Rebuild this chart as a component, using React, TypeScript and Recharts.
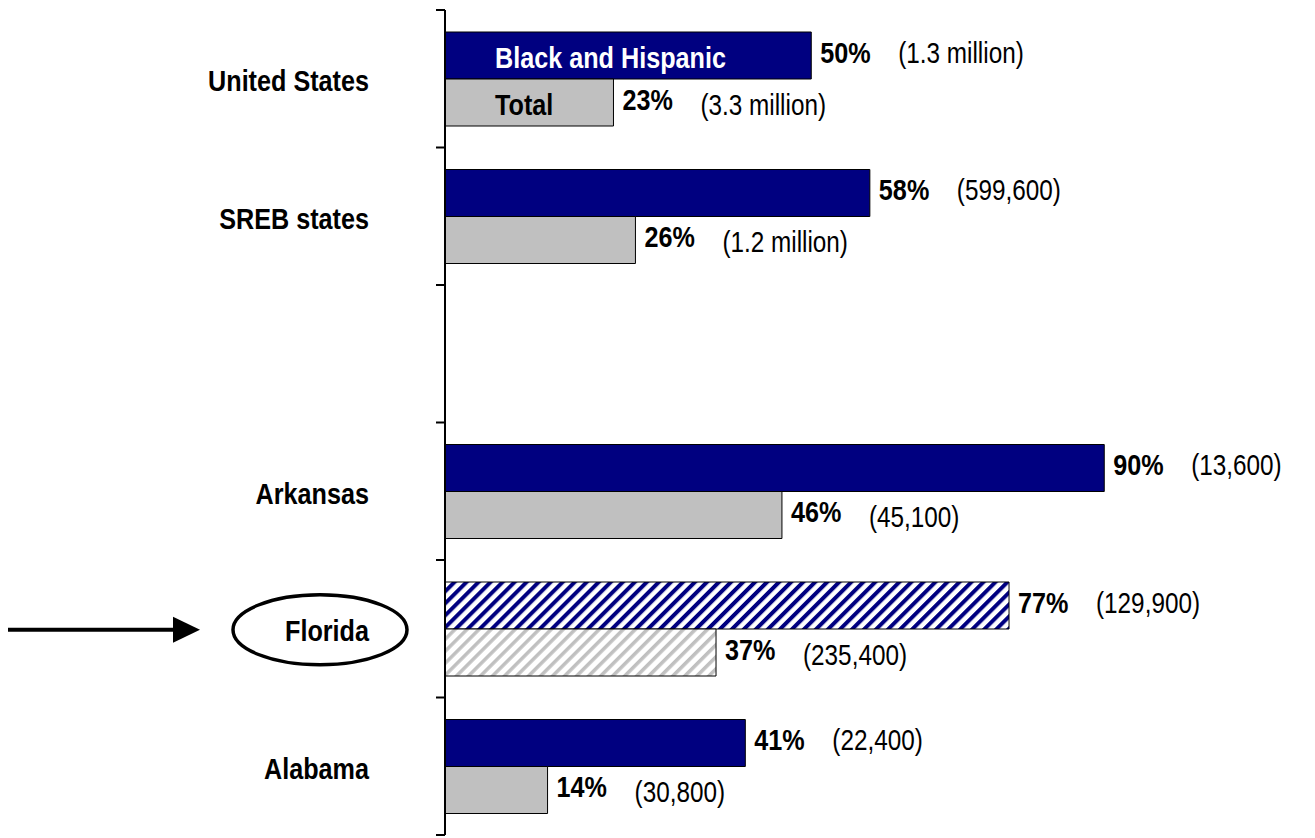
import React from "react";
import { Bar, BarChart, Cell, LabelList, XAxis, YAxis } from "recharts";

const categories = ["United States", "SREB states", " ", "Arkansas", "Florida", "Alabama"];
const blackHispanicPct = [50, 58, null, 90, 77, 41];
const blackHispanicCount = ["(1.3 million)", "(599,600)", null, "(13,600)", "(129,900)", "(22,400)"];
const totalPct = [23, 26, null, 46, 37, 14];
const totalCount = ["(3.3 million)", "(1.2 million)", null, "(45,100)", "(235,400)", "(30,800)"];
const seriesNames = ["Black and Hispanic", "Total"];
const highlighted = "Florida";

const data = categories.map((state, i) => ({
  state,
  bh: blackHispanicPct[i],
  bhCount: blackHispanicCount[i],
  bhTag: i === 0 ? seriesNames[0] : null,
  total: totalPct[i],
  totalCount: totalCount[i],
  totalTag: i === 0 ? seriesNames[1] : null,
}));

const W = 1315;
const H = 838;
const TOP = 10;
const BOTTOM = 3;
const AXIS_X = 445;
const PLOT_W = 732.5; // 0..100%
const BAND = (H - TOP - BOTTOM) / categories.length;
const FONT = "'Liberation Sans', Arial, sans-serif";
const FS = 30;
const NAVY = "#000080";
const GRAY = "#C0C0C0";

// no narrow font installed, so squeeze the text horizontally instead
function NarrowText({ x, y, bold, anchor = "start", fill = "#000", children }: any) {
  const sx = bold ? 0.84 : 0.81;
  return (
    <g transform={`translate(${x},${y}) scale(${sx},1)`}>
      <text
        x={0}
        y={0}
        textAnchor={anchor}
        dominantBaseline="central"
        fontFamily={FONT}
        fontWeight={bold ? "bold" : "normal"}
        fontSize={FS}
        fill={fill}
      >
        {children}
      </text>
    </g>
  );
}

function CategoryTick(props: any) {
  const { x, y, payload, index } = props;
  const half = payload?.offset || BAND / 2;
  const label = payload?.value;
  const isLast = index === categories.length - 1;
  return (
    <g>
      <line x1={x - 9} x2={x} y1={y - half} y2={y - half} stroke="#000" strokeWidth={2} />
      {isLast && <line x1={x - 9} x2={x} y1={y + half} y2={y + half} stroke="#000" strokeWidth={2} />}
      {label === highlighted && (
        <g>
          <ellipse cx={x - 125} cy={y + 1} rx={87} ry={35} fill="none" stroke="#000" strokeWidth={3.5} />
          <line x1={8} x2={178} y1={y + 1} y2={y + 1} stroke="#000" strokeWidth={4} />
          <polygon points={`${173},${y - 12} ${200},${y + 1} ${173},${y + 14}`} fill="#000" />
        </g>
      )}
      <NarrowText x={x - 76} y={y + 2} anchor="end" bold>
        {label}
      </NarrowText>
    </g>
  );
}

function box(props: any) {
  const vb = props.viewBox || {};
  return {
    x: props.x ?? vb.x,
    y: props.y ?? vb.y,
    width: props.width ?? vb.width,
    height: props.height ?? vb.height,
  };
}

const pctLabel = (props: any) => {
  if (props.value == null) return null;
  const { x, y, width, height } = box(props);
  return (
    <NarrowText x={x + width + 9} y={y + height / 2 - 3} bold>
      {props.value}%
    </NarrowText>
  );
};

const countLabel = (dy: number) => (props: any) => {
  if (props.value == null) return null;
  const { x, y, width, height } = box(props);
  return (
    <NarrowText x={x + width + 87} y={y + height / 2 + dy}>
      {props.value}
    </NarrowText>
  );
};

const tagLabel = (color: string) => (props: any) => {
  if (props.value == null) return null;
  const { x, y, height } = box(props);
  return (
    <NarrowText x={x + 50} y={y + height / 2 + 2} bold fill={color}>
      {props.value}
    </NarrowText>
  );
};

export default function App() {
  return (
    <div style={{ position: "absolute", left: 0, top: 0, width: W, height: H, background: "#fff" }}>
      <BarChart
        width={W}
        height={H}
        data={data}
        layout="vertical"
        barCategoryGap="16%"
        barGap={0}
        margin={{ top: TOP, right: W - AXIS_X - PLOT_W, bottom: BOTTOM, left: 0 }}
      >
        <defs>
          <pattern id="hatchNavy" patternUnits="userSpaceOnUse" width="8.5" height="8.5" patternTransform="rotate(45)">
            <rect width="8.5" height="8.5" fill="#fff" />
            <rect width="4" height="8.5" fill={NAVY} />
          </pattern>
          <pattern id="hatchGray" patternUnits="userSpaceOnUse" width="8.5" height="8.5" patternTransform="rotate(45)">
            <rect width="8.5" height="8.5" fill="#fff" />
            <rect width="3.5" height="8.5" fill={GRAY} />
          </pattern>
        </defs>
        <XAxis type="number" domain={[0, 100]} hide />
        <YAxis
          type="category"
          dataKey="state"
          width={AXIS_X}
          axisLine={{ stroke: "#000", strokeWidth: 2 }}
          tickLine={false}
          tickSize={0}
          tickMargin={0}
          interval={0}
          tick={<CategoryTick />}
        />
        <Bar dataKey="bh" name={seriesNames[0]} fill={NAVY} stroke="#000" strokeWidth={1} isAnimationActive={false}>
          {data.map((d) => (
            <Cell key={`bh-${d.state}`} fill={d.state === highlighted ? "url(#hatchNavy)" : NAVY} />
          ))}
          <LabelList dataKey="bh" content={pctLabel} />
          <LabelList dataKey="bhCount" content={countLabel(-3)} />
          <LabelList dataKey="bhTag" content={tagLabel("#fff")} />
        </Bar>
        <Bar dataKey="total" name={seriesNames[1]} fill={GRAY} stroke="#000" strokeWidth={1} isAnimationActive={false}>
          {data.map((d) => (
            <Cell key={`t-${d.state}`} fill={d.state === highlighted ? "url(#hatchGray)" : GRAY} />
          ))}
          <LabelList dataKey="total" content={pctLabel} />
          <LabelList dataKey="totalCount" content={countLabel(2)} />
          <LabelList dataKey="totalTag" content={tagLabel("#000")} />
        </Bar>
      </BarChart>
    </div>
  );
}
